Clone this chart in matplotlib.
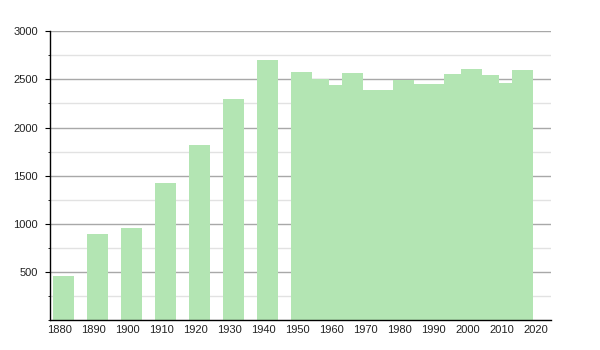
import matplotlib
matplotlib.use("Agg")
import matplotlib.pyplot as plt
from matplotlib.ticker import MultipleLocator

plt.rcParams['font.family'] = ['Liberation Sans', 'DejaVu Sans']

# census years and population
years_early = [1880, 1890, 1900, 1910, 1920, 1930, 1940]
pop_early = [461, 896, 959, 1422, 1816, 2295, 2699]

years_late = [1950, 1955, 1960, 1965, 1970, 1975, 1980,
              1985, 1990, 1995, 2000, 2005, 2010, 2015]
pop_late = [2580, 2500, 2440, 2560, 2385, 2385, 2490,
            2450, 2450, 2550, 2605, 2545, 2465, 2595]

xtick_years = list(range(1880, 2021, 10))
ytick_vals = [500, 1000, 1500, 2000, 2500, 3000]


def main():
    fig = plt.figure(figsize=(6, 3.5), dpi=100)
    ax = fig.add_axes([0.0833, 0.0843, 0.835, 0.8271])

    bar_color = '#b3e5b3'
    offset = 1.2
    width = 6.1
    for y, p in zip(years_early, pop_early):
        ax.bar(y + offset, p, width=width, color=bar_color, linewidth=0)
    # later bars overlap, drawn in order
    for y, p in zip(years_late, pop_late):
        ax.bar(y + offset, p, width=width, color=bar_color, linewidth=0)

    ax.set_xlim(1877.2, 2024.5)
    ax.set_ylim(0, 3000)

    ax.set_xticks(xtick_years)
    ax.set_xticklabels([str(y) for y in xtick_years])
    ax.set_yticks(ytick_vals)
    ax.set_yticklabels([str(v) for v in ytick_vals])
    ax.yaxis.set_minor_locator(MultipleLocator(250))

    ax.set_axisbelow(True)
    ax.grid(axis='y', which='major', color='#a8a8a8', linewidth=1.0)
    ax.grid(axis='y', which='minor', color='#e2e2e2', linewidth=1.0)

    for s in ['top', 'right']:
        ax.spines[s].set_visible(False)
    ax.spines['left'].set_color('black')
    ax.spines['bottom'].set_color('black')
    ax.spines['left'].set_linewidth(1.0)
    ax.spines['bottom'].set_linewidth(1.0)

    ax.tick_params(axis='x', length=0, pad=3, labelsize=8, colors='#222222')
    ax.tick_params(axis='y', which='major', length=3.5, pad=5, labelsize=8,
                   colors='#222222')
    ax.tick_params(axis='y', which='minor', length=1.8)
    ax.tick_params(axis='both', color='black')

    fig.savefig("out.png", dpi=100)


if __name__ == "__main__":
    main()
